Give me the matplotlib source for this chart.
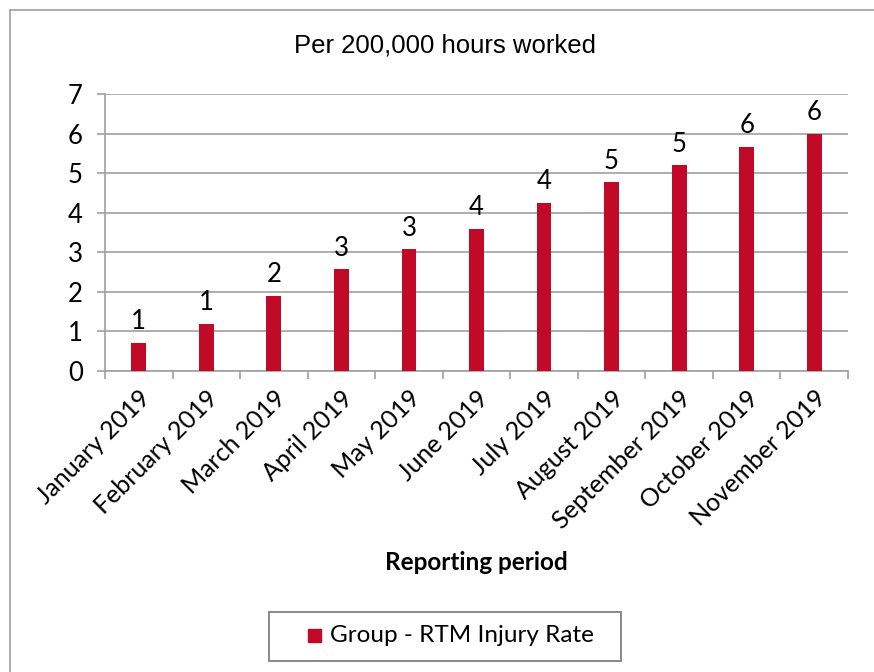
import matplotlib.pyplot as plt
from matplotlib.patches import Rectangle
import numpy as np

# Chart data
months = ["January 2019", "February 2019", "March 2019", "April 2019", "May 2019",
          "June 2019", "July 2019", "August 2019", "September 2019", "October 2019",
          "November 2019"]
injury_rate = [0.72, 1.2, 1.9, 2.58, 3.08, 3.6, 4.25, 4.77, 5.2, 5.67, 6.0]
series_name = "Group - RTM Injury Rate"
title = "Per 200,000 hours worked"
x_label = "Reporting period"

BAR_COLOR = "#C00A27"
GRID_COLOR = "#A0A0A0"
FONT = ["Lato", "DejaVu Sans"]

fig = plt.figure(figsize=(8.74, 6.72), dpi=100)
W, H = 874, 672

# Plot area in pixel coordinates
left, right, top, bottom = 105, 848, 94, 371
ax = fig.add_axes([left / W, 1 - bottom / H, (right - left) / W, (bottom - top) / H])

x = np.arange(len(months))
ax.bar(x, injury_rate, width=0.22, color=BAR_COLOR, zorder=3)

for xi, v in zip(x, injury_rate):
    ax.annotate(f"{v:.0f}", (xi, v), xytext=(0, 6), textcoords="offset points",
                ha="center", va="bottom", fontsize=18.5, family=FONT)

ax.set_xlim(-0.5, len(months) - 0.5)
ax.set_ylim(0, 7)
ax.set_yticks(range(0, 8))
ax.yaxis.grid(True, color=GRID_COLOR, linewidth=1.2, zorder=0)
ax.set_axisbelow(True)

for side in ["top", "right"]:
    ax.spines[side].set_visible(False)
ax.spines["left"].set_color(GRID_COLOR)
ax.spines["bottom"].set_color(GRID_COLOR)
ax.spines["left"].set_linewidth(1.2)
ax.spines["bottom"].set_linewidth(1.2)

# tick marks between categories
ax.set_xticks(np.arange(-0.5, len(months), 1.0))
ax.set_xticklabels([])
ax.tick_params(axis="x", length=6, color=GRID_COLOR, width=1.2)
ax.set_xticks(x, minor=True)
ax.set_xticklabels(months, minor=True, rotation=45, ha="right", rotation_mode="anchor",
                   fontsize=18, family=FONT)
ax.tick_params(axis="x", which="minor", length=0, pad=11)
ax.tick_params(axis="y", length=6, color=GRID_COLOR, width=1.2, labelsize=18.5, pad=10)
for lbl in ax.get_yticklabels():
    lbl.set_family(FONT)

fig.text(445 / W, 1 - 45 / H, title, ha="center", va="center", fontsize=18.5,
         family=["Liberation Sans", "DejaVu Sans"])
fig.text(476 / W, 1 - 563 / H, x_label, ha="center", va="center", fontsize=17.5,
         fontweight="bold", family=FONT)

# legend box
leg_l, leg_t, leg_r, leg_b = 269, 612, 621, 661
fig.patches.append(Rectangle((leg_l / W, 1 - leg_b / H), (leg_r - leg_l) / W, (leg_b - leg_t) / H,
                             transform=fig.transFigure, fill=False, edgecolor="#808080",
                             linewidth=1.3))
fig.patches.append(Rectangle((308 / W, 1 - 642 / H), 13 / W, 13 / H,
                             transform=fig.transFigure, color=BAR_COLOR))
fig.text(330 / W, 1 - 636 / H, series_name, ha="left", va="center", fontsize=17.5, family=FONT)

# outer chart frame (partially cropped)
fig.add_artist(plt.Line2D([10 / W, 1], [1 - 10 / H, 1 - 10 / H], transform=fig.transFigure,
                          color="#A0A0A0", linewidth=1.2))
fig.add_artist(plt.Line2D([10 / W, 10 / W], [0, 1 - 10 / H], transform=fig.transFigure,
                          color="#A0A0A0", linewidth=1.2))

fig.savefig("out.png", dpi=100)
